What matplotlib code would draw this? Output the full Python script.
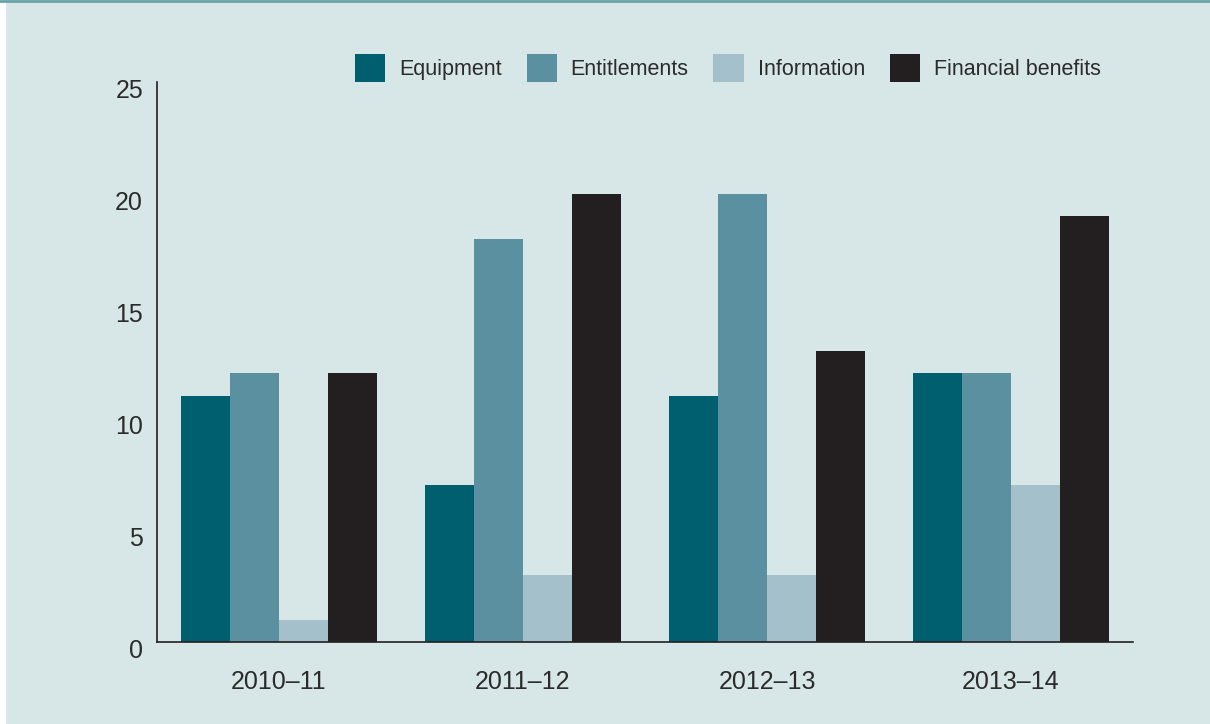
import matplotlib.pyplot as plt
import matplotlib.transforms as mtransforms
from matplotlib import font_manager
import numpy as np

# data
years = ['2010–11', '2011–12', '2012–13', '2013–14']
series = ['Equipment', 'Entitlements', 'Information', 'Financial benefits']
equipment = [11, 7, 11, 12]
entitlements = [12, 18, 20, 12]
information = [1, 3, 3, 7]
financial = [12, 20, 13, 19]
colors = ['#005f6e', '#5b90a0', '#a4c0cb', '#231f20']

names = {f.name for f in font_manager.fontManager.ttflist}
if 'Liberation Sans Narrow' in names:
    plt.rcParams['font.family'] = ['Liberation Sans Narrow', 'DejaVu Sans']
else:
    plt.rcParams['font.family'] = ['Liberation Sans', 'DejaVu Sans']

bg = '#d7e7e7'
txt = '#2b2b2b'

fig = plt.figure(figsize=(12.1, 7.24), dpi=100, facecolor=bg)
ax = fig.add_axes([157/1210, 1-642/724, (1133-157)/1210, (642-82)/724])
ax.set_facecolor(bg)

# white strip at the left edge and teal rule at the top
fig.patches.append(plt.Rectangle((0, 0), 5/1210, 1, transform=fig.transFigure,
                                 color='white', zorder=0))
fig.lines.append(plt.Line2D([0, 1], [1-1/724, 1-1/724], transform=fig.transFigure,
                            color='#68a3a6', lw=2))

x = np.arange(len(years))
w = 0.2
for i, (vals, lab) in enumerate(zip([equipment, entitlements, information, financial], series)):
    ax.bar(x + (i - 1.5) * w, vals, width=w, color=colors[i], label=lab)

ax.set_xlim(-0.5, 3.5)
ax.set_ylim(0, 25)
ax.set_yticks([0, 5, 10, 15, 20, 25])
ax.set_xticks(x)
ax.set_xticklabels(years)

for s in ['top', 'right']:
    ax.spines[s].set_visible(False)
for s in ['left', 'bottom']:
    ax.spines[s].set_color('#231f20')
    ax.spines[s].set_linewidth(1.2)

ax.tick_params(axis='both', length=0, labelsize=18, colors=txt)
ax.tick_params(axis='y', pad=10)
ax.tick_params(axis='x', pad=20)

# y labels sit a little below their value in the reference
off = mtransforms.ScaledTranslation(0, -7/100, fig.dpi_scale_trans)
for lbl in ax.get_yticklabels():
    lbl.set_transform(lbl.get_transform() + off)

fig.legend(loc='upper left', bbox_to_anchor=(355/1210, 1-54/724), ncol=4,
           frameon=False, fontsize=15.5, handlelength=1.4, handleheight=1.65,
           handletextpad=0.65, columnspacing=1.15, borderpad=0, borderaxespad=0,
           labelcolor=txt)

fig.savefig('out.png', dpi=100, facecolor=bg)
